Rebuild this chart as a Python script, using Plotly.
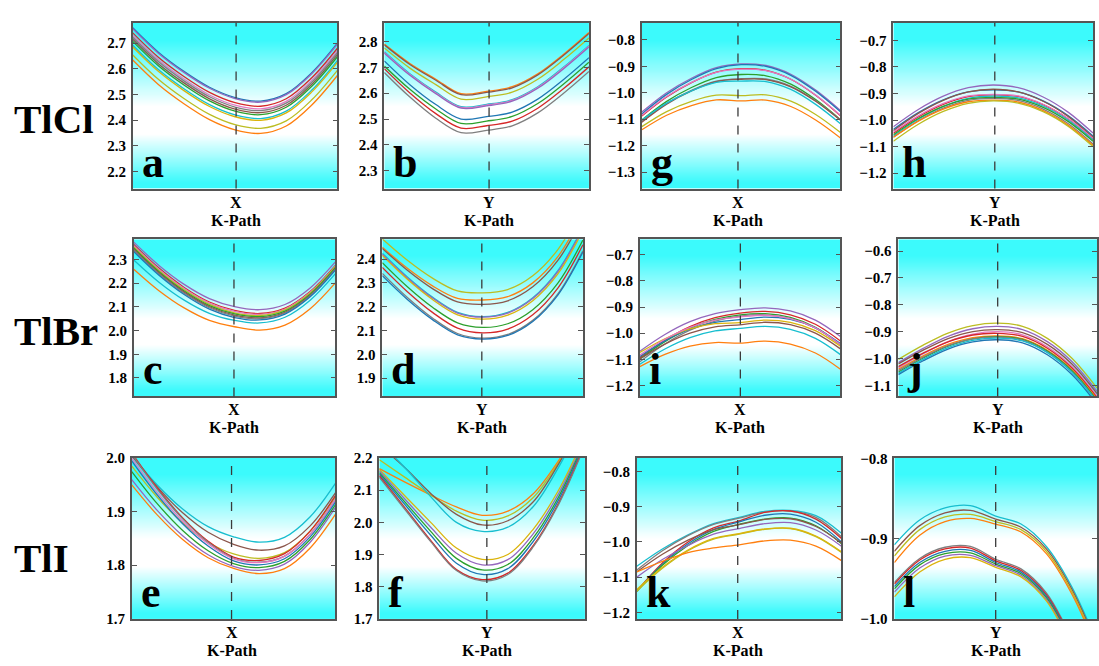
import plotly.graph_objects as go

# ---------------- data ----------------
K_PATH = [0, 0.125, 0.25, 0.375, 0.5, 0.625, 0.75, 0.875, 1.0]

COLORS = {
    'blue': '#1f77b4', 'orange': '#ff7f0e', 'green': '#2ca02c', 'red': '#d62728',
    'purple': '#9467bd', 'brown': '#8c564b', 'pink': '#e377c2', 'gray': '#7f7f7f',
    'olive': '#bcbd22', 'cyan': '#17becf', 'gold': '#dbb40c',
}

# --- TlCl, conduction band near X (a)
A_COLORS = ['blue', 'purple', 'red', 'pink', 'gray', 'brown', 'green', 'cyan', 'gold', 'olive', 'orange']
A_BANDS = [
    [2.76, 2.665, 2.59, 2.528, 2.488, 2.474, 2.503, 2.585, 2.70],
    [2.756, 2.661, 2.586, 2.524, 2.484, 2.470, 2.499, 2.581, 2.696],
    [2.74, 2.645, 2.57, 2.508, 2.468, 2.454, 2.483, 2.565, 2.68],
    [2.73, 2.635, 2.56, 2.498, 2.458, 2.444, 2.473, 2.555, 2.67],
    [2.723, 2.628, 2.553, 2.491, 2.451, 2.437, 2.466, 2.548, 2.663],
    [2.715, 2.62, 2.545, 2.483, 2.443, 2.429, 2.458, 2.54, 2.655],
    [2.707, 2.612, 2.537, 2.475, 2.435, 2.421, 2.45, 2.532, 2.647],
    [2.692, 2.597, 2.522, 2.46, 2.42, 2.406, 2.435, 2.517, 2.632],
    [2.685, 2.59, 2.515, 2.453, 2.413, 2.399, 2.428, 2.51, 2.625],
    [2.654, 2.559, 2.484, 2.422, 2.382, 2.368, 2.397, 2.479, 2.594],
    [2.634, 2.539, 2.464, 2.402, 2.362, 2.348, 2.377, 2.459, 2.574],
]

# --- TlCl, conduction band near Y (b)
B_COLORS = ['orange', 'brown', 'olive', 'cyan', 'pink', 'purple', 'blue', 'green', 'red', 'gray']
B_BANDS = [
    [2.79, 2.715, 2.655, 2.598, 2.607, 2.625, 2.675, 2.75, 2.835],
    [2.787, 2.711, 2.651, 2.594, 2.603, 2.621, 2.671, 2.746, 2.831],
    [2.775, 2.697, 2.634, 2.577, 2.586, 2.604, 2.654, 2.729, 2.814],
    [2.76, 2.675, 2.605, 2.548, 2.557, 2.575, 2.625, 2.70, 2.785],
    [2.758, 2.672, 2.602, 2.545, 2.554, 2.572, 2.622, 2.697, 2.782],
    [2.755, 2.669, 2.599, 2.542, 2.551, 2.569, 2.619, 2.694, 2.779],
    [2.725, 2.633, 2.557, 2.50, 2.509, 2.527, 2.577, 2.652, 2.737],
    [2.705, 2.615, 2.54, 2.483, 2.492, 2.51, 2.56, 2.635, 2.72],
    [2.695, 2.601, 2.522, 2.465, 2.474, 2.492, 2.542, 2.617, 2.702],
    [2.68, 2.585, 2.504, 2.447, 2.456, 2.474, 2.524, 2.599, 2.684],
]

# --- TlCl, valence band near X (g)
G_COLORS = ['purple', 'blue', 'red', 'pink', 'green', 'gray', 'brown', 'cyan', 'olive', 'orange']
G_BANDS = [
    [-1.073, -1.0, -0.945, -0.905, -0.891, -0.897, -0.93, -0.99, -1.067],
    [-1.080, -1.006, -0.950, -0.909, -0.894, -0.9005, -0.934, -0.9945, -1.072],
    [-1.088, -1.016, -0.9615, -0.922, -0.909, -0.9155, -0.949, -1.0095, -1.087],
    [-1.085, -1.014, -0.961, -0.923, -0.911, -0.9165, -0.949, -1.0085, -1.085],
    [-1.103, -1.0325, -0.98, -0.9425, -0.931, -0.936, -0.9675, -1.026, -1.102],
    [-1.108, -1.04, -0.9905, -0.956, -0.947, -0.948, -0.9755, -1.03, -1.102],
    [-1.111, -1.043, -0.993, -0.958, -0.949, -0.95, -0.9775, -1.032, -1.104],
    [-1.103, -1.039, -0.9925, -0.961, -0.956, -0.958, -0.9875, -1.044, -1.117],
    [-1.128, -1.071, -1.0325, -1.009, -1.011, -1.008, -1.0315, -1.082, -1.15],
    [-1.14, -1.085, -1.0485, -1.027, -1.031, -1.028, -1.052, -1.103, -1.171],
]

# --- TlCl, valence band near Y (h)
H_COLORS = ['purple', 'blue', 'brown', 'red', 'pink', 'cyan', 'green', 'gray', 'orange', 'olive']
H_BANDS = [
    [-1.025, -0.96, -0.91, -0.878, -0.868, -0.878, -0.913, -0.97, -1.049],
    [-1.035, -0.972, -0.924, -0.894, -0.886, -0.894, -0.9275, -0.983, -1.06],
    [-1.04, -0.975, -0.9255, -0.894, -0.884, -0.894, -0.929, -0.986, -1.065],
    [-1.05, -0.988, -0.941, -0.912, -0.905, -0.911, -0.942, -0.995, -1.07],
    [-1.045, -0.984, -0.9375, -0.909, -0.903, -0.909, -0.9405, -0.994, -1.069],
    [-1.06, -0.997, -0.9485, -0.918, -0.91, -0.916, -0.947, -1.0, -1.075],
    [-1.055, -0.994, -0.9485, -0.921, -0.915, -0.921, -0.952, -1.005, -1.08],
    [-1.065, -1.0025, -0.955, -0.9255, -0.918, -0.926, -0.9585, -1.013, -1.09],
    [-1.065, -1.004, -0.9585, -0.931, -0.925, -0.932, -0.9645, -1.019, -1.095],
    [-1.08, -1.016, -0.9675, -0.937, -0.928, -0.936, -0.9685, -1.023, -1.10],
]

# --- TlBr, conduction band near X (c)
C_COLORS = ['purple', 'red', 'pink', 'olive', 'green', 'brown', 'gray', 'blue', 'cyan', 'orange']
C_BANDS = [
    [2.373, 2.275, 2.195, 2.135, 2.101, 2.088, 2.11, 2.18, 2.29],
    [2.363, 2.2635, 2.182, 2.1205, 2.085, 2.072, 2.0945, 2.165, 2.275],
    [2.358, 2.259, 2.1775, 2.116, 2.081, 2.0685, 2.091, 2.1615, 2.272],
    [2.353, 2.2535, 2.172, 2.1105, 2.075, 2.0635, 2.087, 2.1585, 2.27],
    [2.348, 2.2485, 2.167, 2.1055, 2.07, 2.0585, 2.082, 2.1535, 2.265],
    [2.343, 2.2435, 2.162, 2.1005, 2.065, 2.0535, 2.077, 2.1485, 2.26],
    [2.338, 2.2388, 2.1575, 2.0963, 2.061, 2.05, 2.074, 2.146, 2.258],
    [2.333, 2.2335, 2.152, 2.0905, 2.055, 2.0448, 2.0695, 2.1423, 2.255],
    [2.298, 2.2043, 2.1285, 2.0728, 2.043, 2.032, 2.056, 2.128, 2.24],
    [2.259, 2.1683, 2.0955, 2.0428, 2.016, 2.002, 2.023, 2.092, 2.201],
]

# --- TlBr, conduction band near Y (d)
D_COLORS = ['olive', 'orange', 'brown', 'cyan', 'purple', 'gold', 'green', 'red', 'gray', 'blue']
D_BANDS = [
    [2.485, 2.395, 2.32, 2.266, 2.258, 2.272, 2.33, 2.44, 2.62],
    [2.45, 2.3613, 2.2875, 2.2348, 2.228, 2.242, 2.30, 2.41, 2.59],
    [2.445, 2.353, 2.276, 2.22, 2.21, 2.2248, 2.2835, 2.3943, 2.575],
    [2.425, 2.325, 2.24, 2.176, 2.158, 2.1758, 2.2375, 2.3513, 2.535],
    [2.42, 2.3208, 2.2365, 2.1733, 2.156, 2.173, 2.234, 2.347, 2.53],
    [2.415, 2.315, 2.23, 2.166, 2.148, 2.1645, 2.225, 2.3375, 2.52],
    [2.385, 2.2838, 2.1975, 2.1323, 2.113, 2.1283, 2.1875, 2.2988, 2.48],
    [2.365, 2.263, 2.176, 2.11, 2.09, 2.106, 2.166, 2.278, 2.46],
    [2.34, 2.2388, 2.1525, 2.0873, 2.068, 2.0833, 2.1425, 2.2538, 2.435],
    [2.33, 2.2303, 2.1455, 2.0818, 2.064, 2.079, 2.138, 2.249, 2.43],
]

# --- TlBr, valence band near X (i)
I_COLORS = ['purple', 'red', 'green', 'gray', 'blue', 'gold', 'pink', 'brown', 'cyan', 'orange']
I_BANDS = [
    [-1.069, -1.005, -0.956, -0.925, -0.91, -0.903, -0.915, -0.95, -1.013],
    [-1.094, -1.027, -0.975, -0.941, -0.923, -0.917, -0.93, -0.966, -1.03],
    [-1.099, -1.0325, -0.981, -0.9475, -0.93, -0.9255, -0.94, -0.9775, -1.043],
    [-1.109, -1.0413, -0.9885, -0.9538, -0.935, -0.9298, -0.9435, -0.9803, -1.045],
    [-1.089, -1.0295, -0.985, -0.9585, -0.948, -0.9383, -0.9475, -0.9798, -1.04],
    [-1.074, -1.0213, -0.9835, -0.9638, -0.96, -0.9498, -0.9585, -0.9903, -1.05],
    [-1.084, -1.0233, -0.9775, -0.9498, -0.938, -0.9315, -0.944, -0.9795, -1.043],
    [-1.099, -1.042, -1.0, -0.976, -0.968, -0.9583, -0.9675, -0.9998, -1.06],
    [-1.119, -1.0605, -1.017, -0.9915, -0.982, -0.9743, -0.9855, -1.0198, -1.082],
    [-1.128, -1.0813, -1.0495, -1.0358, -1.038, -1.0303, -1.0415, -1.0758, -1.138],
]

# --- TlBr, valence band near Y (j)
J_COLORS = ['olive', 'purple', 'brown', 'pink', 'red', 'orange', 'green', 'gray', 'cyan', 'blue']
J_BANDS = [
    [-1.003, -0.95, -0.905, -0.877, -0.868, -0.88, -0.925, -1.0, -1.11],
    [-1.015, -0.962, -0.917, -0.889, -0.88, -0.892, -0.937, -1.012, -1.122],
    [-1.02, -0.9688, -0.9255, -0.8993, -0.892, -0.903, -0.947, -1.021, -1.13],
    [-1.035, -0.982, -0.937, -0.909, -0.90, -0.9115, -0.956, -1.0305, -1.14],
    [-1.03, -0.9798, -0.9375, -0.9123, -0.906, -0.9173, -0.9615, -1.0358, -1.145],
    [-1.04, -0.9898, -0.9475, -0.9223, -0.916, -0.926, -0.969, -1.042, -1.15],
    [-1.05, -0.9978, -0.9535, -0.9263, -0.918, -0.9288, -0.9725, -1.0463, -1.155],
    [-1.045, -0.9945, -0.952, -0.9265, -0.92, -0.9315, -0.976, -1.0505, -1.16],
    [-1.055, -1.003, -0.959, -0.932, -0.924, -0.9345, -0.978, -1.0515, -1.16],
    [-1.06, -1.0083, -0.9645, -0.9378, -0.93, -0.9415, -0.986, -1.0605, -1.17],
]

# --- TlI, conduction band near X (e)
E_COLORS = ['cyan', 'brown', 'olive', 'red', 'gray', 'pink', 'blue', 'green', 'purple', 'orange']
E_BANDS = [
    [2.005, 1.95, 1.905, 1.872, 1.853, 1.843, 1.852, 1.89, 1.953],
    [2.005, 1.9465, 1.898, 1.8615, 1.839, 1.828, 1.836, 1.873, 1.935],
    [1.985, 1.927, 1.879, 1.843, 1.821, 1.8128, 1.8235, 1.8633, 1.928],
    [2.01, 1.9443, 1.8885, 1.8448, 1.815, 1.8088, 1.8215, 1.8633, 1.93],
    [2.008, 1.9423, 1.8865, 1.8428, 1.813, 1.8055, 1.817, 1.8575, 1.923],
    [2.0, 1.936, 1.882, 1.84, 1.812, 1.8048, 1.8165, 1.8573, 1.923],
    [1.995, 1.9313, 1.8775, 1.8358, 1.808, 1.8005, 1.812, 1.8525, 1.918],
    [1.975, 1.915, 1.865, 1.827, 1.803, 1.7955, 1.807, 1.8475, 1.913],
    [1.96, 1.9025, 1.855, 1.8195, 1.798, 1.7905, 1.802, 1.8425, 1.908],
    [1.95, 1.894, 1.848, 1.814, 1.794, 1.7843, 1.7935, 1.8318, 1.895],
]

# --- TlI, conduction band near Y (f)
F_COLORS = ['orange', 'olive', 'brown', 'cyan', 'gold', 'purple', 'green', 'blue', 'red', 'gray']
F_BANDS = [
    [2.167, 2.125, 2.085, 2.048, 2.022, 2.035, 2.09, 2.195, 2.33],
    [2.195, 2.14, 2.085, 2.035, 2.007, 2.02, 2.078, 2.19, 2.33],
    [2.24, 2.17, 2.09, 2.025, 1.992, 2.005, 2.065, 2.185, 2.33],
    [2.25, 2.17, 2.08, 2.0, 1.972, 1.985, 2.05, 2.175, 2.33],
    [2.165, 2.082, 2.0, 1.92, 1.885, 1.9, 1.98, 2.104, 2.27],
    [2.16, 2.072, 1.985, 1.904, 1.868, 1.884, 1.966, 2.093, 2.26],
    [2.155, 2.063, 1.972, 1.888, 1.852, 1.869, 1.953, 2.083, 2.255],
    [2.15, 2.055, 1.96, 1.873, 1.838, 1.856, 1.942, 2.074, 2.25],
    [2.145, 2.045, 1.944, 1.853, 1.822, 1.842, 1.929, 2.064, 2.244],
    [2.14, 2.04, 1.94, 1.85, 1.818, 1.838, 1.925, 2.06, 2.24],
]

# --- TlI, valence band near X (k)
K_COLORS = ['cyan', 'gray', 'red', 'blue', 'green', 'brown', 'purple', 'olive', 'gold', 'orange']
K_BANDS = [
    [-1.069, -1.02, -0.98, -0.948, -0.93, -0.913, -0.91, -0.925, -0.975],
    [-1.08, -1.025, -0.982, -0.95, -0.932, -0.915, -0.912, -0.93, -0.985],
    [-1.14, -1.06, -1.0, -0.96, -0.94, -0.916, -0.912, -0.935, -0.99],
    [-1.14, -1.063, -1.005, -0.965, -0.943, -0.924, -0.921, -0.944, -1.0],
    [-1.14, -1.066, -1.01, -0.97, -0.95, -0.935, -0.932, -0.954, -1.005],
    [-1.085, -1.035, -0.995, -0.965, -0.951, -0.936, -0.934, -0.956, -1.003],
    [-1.10, -1.05, -1.01, -0.978, -0.962, -0.948, -0.945, -0.966, -1.012],
    [-1.14, -1.075, -1.025, -0.992, -0.978, -0.964, -0.962, -0.985, -1.03],
    [-1.135, -1.072, -1.023, -0.99, -0.976, -0.963, -0.961, -0.983, -1.028],
    [-1.085, -1.055, -1.03, -1.017, -1.008, -0.997, -0.995, -1.012, -1.053],
]

# --- TlI, valence band near Y (l)
L_COLORS = ['cyan', 'brown', 'olive', 'orange', 'gray', 'red', 'blue', 'green', 'purple', 'gold']
L_BANDS = [
    [-0.908, -0.877, -0.862, -0.859, -0.872, -0.882, -0.91, -0.96, -1.03],
    [-0.916, -0.884, -0.868, -0.865, -0.876, -0.886, -0.913, -0.963, -1.033],
    [-0.922, -0.889, -0.873, -0.87, -0.879, -0.889, -0.916, -0.966, -1.036],
    [-0.93, -0.896, -0.879, -0.875, -0.882, -0.892, -0.919, -0.969, -1.039],
    [-0.955, -0.925, -0.911, -0.91, -0.926, -0.938, -0.968, -1.025, -1.1],
    [-0.957, -0.927, -0.913, -0.912, -0.928, -0.94, -0.97, -1.027, -1.102],
    [-0.96, -0.93, -0.916, -0.915, -0.93, -0.942, -0.972, -1.029, -1.104],
    [-0.963, -0.933, -0.919, -0.918, -0.932, -0.944, -0.974, -1.031, -1.106],
    [-0.967, -0.937, -0.922, -0.921, -0.934, -0.946, -0.976, -1.033, -1.108],
    [-0.973, -0.942, -0.926, -0.924, -0.936, -0.948, -0.978, -1.035, -1.11],
]

PANEL_LETTERS = ['a', 'b', 'g', 'h', 'c', 'd', 'i', 'j', 'e', 'f', 'k', 'l']
KPOINT_LABELS = ['X', 'Y', 'X', 'Y', 'X', 'Y', 'X', 'Y', 'X', 'Y', 'X', 'Y']
KPOINT_POS = [0.505, 0.512, 0.484, 0.508, 0.497, 0.496, 0.501, 0.5, 0.49, 0.523, 0.493, 0.5]
Y_RANGES = [
    [2.133, 2.78], [2.231, 2.873], [-1.362, -0.735], [-1.258, -0.633],
    [1.722, 2.385], [1.823, 2.483], [-1.242, -0.641], [-1.141, -0.556],
    [1.6995, 2.0005], [1.6995, 2.2005], [-1.219, -0.761], [-1.0005, -0.7995],
]
ROW_LABELS = ['TlCl', 'TlBr', 'TlI']
X_AXIS_TITLE = 'K-Path'

# ---------------- layout geometry (pixels) ----------------
W, H = 1099, 666
BOXES = [  # left, right, top, bottom
    (133, 338, 15, 185), (385, 590, 15, 185), (643, 842, 15, 185), (895, 1095, 15, 185),
    (134, 336, 237, 398), (383, 584, 237, 398), (641, 842, 237, 398), (900, 1099, 237, 398),
    (132, 336, 461, 626), (380, 586, 461, 626), (638, 843, 461, 626), (896, 1099, 461, 626),
]
ROW_LABEL_Y = [114, 331, 564]

BANDS = [A_BANDS, B_BANDS, G_BANDS, H_BANDS, C_BANDS, D_BANDS, I_BANDS, J_BANDS,
         E_BANDS, F_BANDS, K_BANDS, L_BANDS]
BAND_COLORS = [A_COLORS, B_COLORS, G_COLORS, H_COLORS, C_COLORS, D_COLORS, I_COLORS, J_COLORS,
               E_COLORS, F_COLORS, K_COLORS, L_COLORS]

CYAN_BG = 'rgb(60,250,252)'
BG_SCALE = [[0, CYAN_BG], [0.04, CYAN_BG], [0.33, 'rgb(255,255,255)'],
            [0.5, 'rgb(255,255,255)'], [0.9, CYAN_BG], [1, CYAN_BG]]

FONT = 'Liberation Serif, Times New Roman, serif'
FRAME = '#555555'

fig = go.Figure()
layout = dict(
    width=W, height=H, margin=dict(l=0, r=0, t=0, b=0),
    paper_bgcolor='white', plot_bgcolor='rgba(0,0,0,0)', showlegend=False,
    font=dict(family=FONT, color='black'),
)
shapes, annotations = [], []

for idx in range(12):
    n = idx + 1
    xa = 'x' if n == 1 else f'x{n}'
    ya = 'y' if n == 1 else f'y{n}'
    l, r, t, b = BOXES[idx]
    r0, r1 = Y_RANGES[idx]

    # gradient background
    steps = 40
    tt = [k / steps for k in range(steps + 1)]
    yy = [r0 + (r1 - r0) * v for v in tt]
    fig.add_trace(go.Heatmap(
        x=[-0.05, 1.05], y=yy, z=[[v, v] for v in tt], colorscale=BG_SCALE,
        zmin=0, zmax=1, zsmooth='best', showscale=False, hoverinfo='skip',
        xaxis=xa, yaxis=ya))

    for curve, cname in zip(BANDS[idx], BAND_COLORS[idx]):
        fig.add_trace(go.Scatter(
            x=K_PATH, y=curve, mode='lines',
            line=dict(color=COLORS[cname], width=1.3, shape='spline', smoothing=1.0),
            xaxis=xa, yaxis=ya, hoverinfo='skip', showlegend=False))

    xkey = 'xaxis' if n == 1 else f'xaxis{n}'
    ykey = 'yaxis' if n == 1 else f'yaxis{n}'
    layout[xkey] = dict(
        domain=[l / W, min(r / W, 1.0)], range=[0, 1], anchor=ya,
        showticklabels=False, ticks='', showline=True, mirror=True,
        linecolor=FRAME, linewidth=1.5,
        showgrid=False, zeroline=False, fixedrange=True)
    layout[ykey] = dict(
        domain=[1 - b / H, 1 - t / H], range=[r0, r1], anchor=xa,
        tickmode='linear', tick0=0, dtick=0.1, tickformat='.1f',
        ticks='inside', ticklen=5, tickwidth=1.2, tickcolor=FRAME,
        showline=True, mirror='ticks', linecolor=FRAME, linewidth=1.5,
        showgrid=False, zeroline=False, fixedrange=True, ticklabelstandoff=2,
        tickfont=dict(family=FONT, size=15, color='black', weight='bold'))

    shapes.append(dict(type='line', xref=xa, yref=f'{ya} domain',
                       x0=KPOINT_POS[idx], x1=KPOINT_POS[idx], y0=0, y1=1,
                       line=dict(color='#3a3a3a', width=1.3, dash='dash'), layer='above'))

    annotations.append(dict(
        text=PANEL_LETTERS[idx], xref=f'{xa} domain', yref=f'{ya} domain',
        x=0, y=0, xanchor='left', yanchor='bottom', xshift=7, yshift=0,
        showarrow=False, font=dict(family=FONT, size=44, color='black', weight='bold')))
    annotations.append(dict(
        text=KPOINT_LABELS[idx], xref=f'{xa} domain', yref=f'{ya} domain',
        x=KPOINT_POS[idx], y=0, xanchor='center', yanchor='top', yshift=-3,
        showarrow=False, font=dict(family=FONT, size=16, color='black', weight='bold')))
    annotations.append(dict(
        text=X_AXIS_TITLE, xref=f'{xa} domain', yref=f'{ya} domain',
        x=KPOINT_POS[idx], y=0, xanchor='center', yanchor='top', yshift=-21,
        showarrow=False, font=dict(family=FONT, size=16, color='black', weight='bold')))

for row, label in enumerate(ROW_LABELS):
    annotations.append(dict(
        text=label, xref='paper', yref='paper', x=12 / W, y=1 - ROW_LABEL_Y[row] / H,
        xanchor='left', yanchor='middle', showarrow=False,
        font=dict(family=FONT, size=41, color='black', weight='bold')))

layout['shapes'] = shapes
layout['annotations'] = annotations
fig.update_layout(**layout)
fig.write_html('out.html')
